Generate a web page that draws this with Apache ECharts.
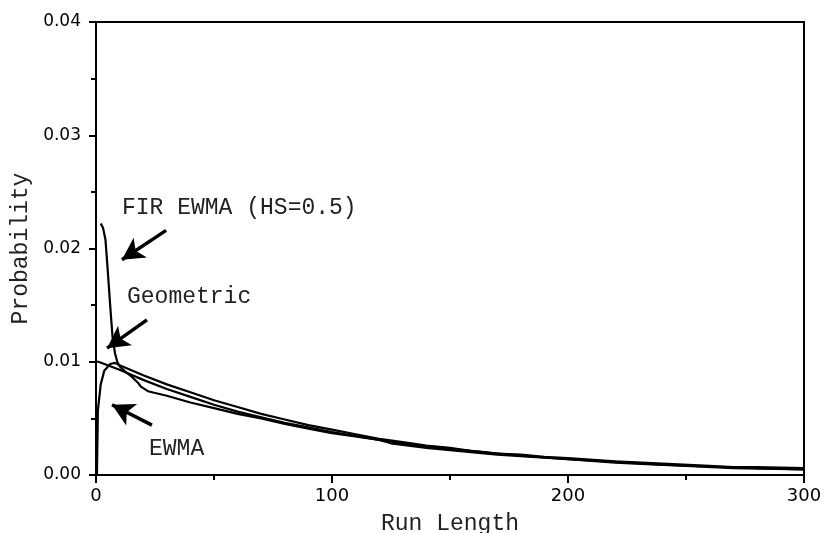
<!DOCTYPE html>
<html>
<head>
<meta charset="utf-8">
<script src="https://cdn.jsdelivr.net/npm/echarts@6/dist/echarts.min.js"></script>
<style>
  html, body { margin: 0; padding: 0; background: #fff; }
  #chart { width: 824px; height: 533px; }
</style>
</head>
<body>
<div id="chart"></div>
<script>
// run length points and probabilities
const geoRL = [0, 1, 10, 20, 30, 40, 50, 60, 70, 80, 90, 100, 120, 140, 160, 180, 200, 220, 240, 260, 280, 300]
const geoP = [0.0100, 0.0100, 0.0093, 0.0084, 0.0076, 0.0069, 0.0062, 0.0056, 0.0051, 0.0046, 0.0042, 0.0038,
  0.0031, 0.0025, 0.0021, 0.0017, 0.0014, 0.0011, 0.0009, 0.00075, 0.0006, 0.0005]

const ewmaRL = [0.4, 0.8, 2, 3.5, 6, 8, 10, 20, 30, 40, 50, 60, 70, 80, 90, 100, 110, 120, 130, 140, 150,
  160, 170, 180, 190, 200, 220, 240, 260, 270, 280, 300]
const ewmaP = [0.0000, 0.0057, 0.0080, 0.0092, 0.0098, 0.0099, 0.0097, 0.0088, 0.0080, 0.0073, 0.0066, 0.0060,
  0.0054, 0.0049, 0.0044, 0.0040, 0.0036, 0.0032, 0.0029, 0.0026, 0.0024, 0.0021, 0.0019, 0.0018, 0.0016,
  0.0015, 0.0012, 0.0010, 0.0008, 0.0007, 0.0007, 0.0006]

const firRL = [2, 3, 4, 5, 6, 7, 8, 9, 10, 12, 15, 18, 19, 22, 30, 40, 50, 60, 70, 80, 90, 100, 110, 120,
  125, 140, 150, 170, 200, 250, 270, 300]
const firP = [0.0222, 0.0218, 0.0208, 0.0180, 0.0150, 0.0122, 0.0108, 0.0100, 0.0096, 0.0092, 0.0087, 0.0081,
  0.0078, 0.0074, 0.0070, 0.0064, 0.0059, 0.0054, 0.0050, 0.0045, 0.0041, 0.0037, 0.0034, 0.0031,
  0.0028, 0.0024, 0.0022, 0.0018, 0.0014, 0.0008, 0.0006, 0.0005]

const xTicks = [0, 100, 200, 300]
const yTicks = [0.00, 0.01, 0.02, 0.03, 0.04]

// arrows, tail -> head, in data units
const arrows = [
  [[29.7, 0.0216], [11.0, 0.0190]],
  [[21.6, 0.0137], [4.7, 0.0112]],
  [[23.7, 0.0044], [6.8, 0.0062]]
]

const pairs = (xs, ys) => xs.map((x, i) => [x, ys[i]])

const chart = echarts.init(document.getElementById('chart'))

const mono = '"Liberation Mono", "DejaVu Sans Mono", monospace'
const lineStyle = { color: '#000', width: 2.2 }

chart.setOption({
  animation: false,
  backgroundColor: '#fff',
  grid: {
    left: 96,
    right: 20,
    top: 22,
    bottom: 58,
    outerBoundsMode: 'none',
    containLabel: false,
    show: true,
    borderColor: '#000',
    borderWidth: 2
  },
  xAxis: {
    type: 'value',
    min: xTicks[0],
    max: xTicks[xTicks.length - 1],
    interval: 100,
    name: 'Run Length',
    nameLocation: 'middle',
    nameGap: 37,
    nameTextStyle: { fontFamily: mono, fontSize: 23, color: '#222' },
    axisLine: { lineStyle: { color: '#000', width: 2 } },
    axisTick: { length: 8, lineStyle: { color: '#000', width: 2 } },
    minorTick: { show: true, splitNumber: 2, length: 5, lineStyle: { color: '#000', width: 2 } },
    splitLine: { show: false },
    axisLabel: { margin: 12, fontFamily: 'DejaVu Sans', fontSize: 18, color: '#000' }
  },
  yAxis: {
    type: 'value',
    min: yTicks[0],
    max: yTicks[yTicks.length - 1],
    interval: 0.01,
    name: 'Probability',
    nameLocation: 'middle',
    nameRotate: 90,
    nameGap: 63,
    nameTextStyle: { fontFamily: mono, fontSize: 23, color: '#222' },
    axisLine: { lineStyle: { color: '#000', width: 2 } },
    axisTick: { length: 7, lineStyle: { color: '#000', width: 2 } },
    minorTick: { show: true, splitNumber: 2, length: 5, lineStyle: { color: '#000', width: 2 } },
    splitLine: { show: false },
    axisLabel: {
      margin: 15,
      fontFamily: 'DejaVu Sans',
      fontSize: 17,
      color: '#000',
      formatter: v => v.toFixed(2)
    }
  },
  series: [
    {
      name: 'Geometric',
      type: 'line',
      showSymbol: false,
      data: pairs(geoRL, geoP),
      lineStyle: lineStyle,
      markLine: {
        silent: true,
        symbol: ['none', 'arrow'],
        symbolSize: [18, 22],
        label: { show: false },
        lineStyle: { color: '#000', width: 3.5, type: 'solid' },
        data: arrows.map(a => [{ coord: a[0] }, { coord: a[1] }])
      }
    },
    {
      name: 'EWMA',
      type: 'line',
      showSymbol: false,
      data: pairs(ewmaRL, ewmaP),
      lineStyle: lineStyle
    },
    {
      name: 'FIR EWMA (HS=0.5)',
      type: 'line',
      showSymbol: false,
      data: pairs(firRL, firP),
      lineStyle: lineStyle
    }
  ],
  graphic: [
    { type: 'text', left: 122, top: 196, style: { text: 'FIR EWMA (HS=0.5)', font: '23px ' + mono, fill: '#222' } },
    { type: 'text', left: 127, top: 285, style: { text: 'Geometric', font: '23px ' + mono, fill: '#222' } },
    { type: 'text', left: 149, top: 437, style: { text: 'EWMA', font: '23px ' + mono, fill: '#222' } }
  ]
})
</script>
</body>
</html>
